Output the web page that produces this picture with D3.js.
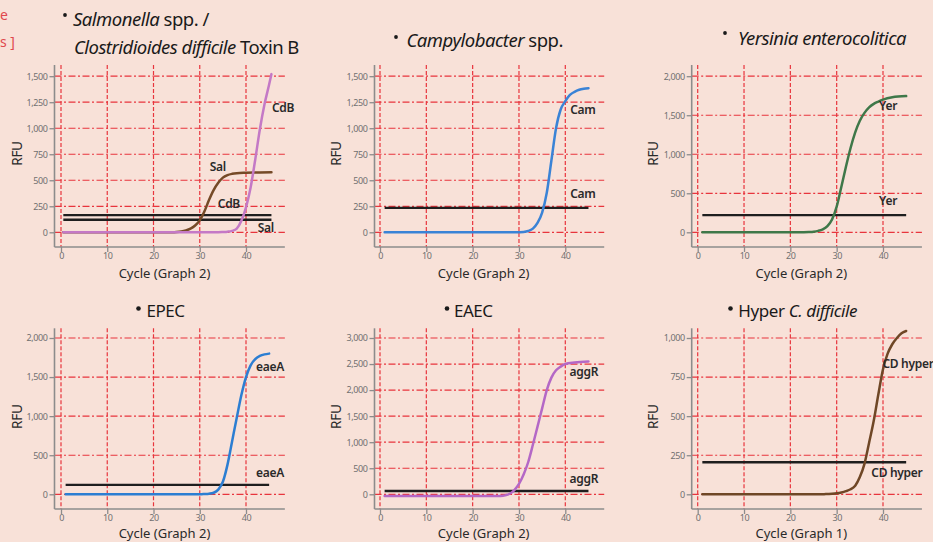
<!DOCTYPE html>
<html><head><meta charset="utf-8">
<script src="https://cdn.jsdelivr.net/npm/d3@7"></script>
<style>
html,body{margin:0;padding:0;background:#f8e1d8;}
svg{display:block;}
</style></head><body>
<svg id="c" width="933" height="542"></svg>
<script>
// ---------- data ----------
const xTicks = [0, 10, 20, 30, 40];
const yTicksSal = [0, 250, 500, 750, 1000, 1250, 1500];
const yTicksCam = [0, 250, 500, 750, 1000, 1250, 1500];
const yTicksYer = [0, 500, 1000, 1500, 2000];
const yTicksEpec = [0, 500, 1000, 1500, 2000];
const yTicksEaec = [0, 500, 1000, 1500, 2000, 2500, 3000];
const yTicksHyper = [0, 250, 500, 750, 1000];

const salCycles = [0.5, 10, 20, 24, 25, 26, 27, 28, 29, 30, 31, 32, 33, 34, 35, 36, 37, 38, 40, 43, 45.5];
const salRFU    = [0, 0, 0, 1, 3, 8, 18, 35, 65, 115, 200, 310, 405, 475, 525, 550, 562, 568, 572, 575, 578];
const cdbCycles = [0.5, 10, 20, 30, 34, 35, 36, 37, 38, 39, 40, 41, 42, 43, 44, 45, 45.5];
const cdbRFU    = [0, 0, 0, 0, 1, 3, 6, 14, 36, 110, 240, 430, 700, 990, 1230, 1420, 1520];
const camCycles = [1, 10, 20, 29, 30, 31, 32, 33, 34, 35, 36, 37, 38, 39, 40, 41, 42, 43, 44, 45];
const camRFU    = [0, 0, 0, 0, 1, 3, 12, 35, 90, 190, 380, 690, 1000, 1180, 1260, 1320, 1350, 1370, 1380, 1385];
const yerCycles = [1, 10, 20, 22, 24, 25, 26, 27, 28, 29, 30, 31, 32, 33, 34, 35, 36, 37, 38, 39, 40, 42, 45];
const yerRFU    = [0, 0, 0, 0, 4, 8, 18, 38, 80, 165, 330, 580, 840, 1080, 1280, 1430, 1530, 1600, 1645, 1675, 1700, 1730, 1745];
const eaeCycles = [1, 10, 20, 30, 31, 32, 33, 34, 35, 36, 37, 38, 39, 40, 41, 42, 43, 44, 45];
const eaeRFU    = [0, 0, 0, 0, 3, 8, 20, 60, 160, 380, 680, 980, 1270, 1500, 1650, 1730, 1770, 1790, 1800];
const aggCycles = [1, 10, 20, 25, 26, 27, 28, 29, 30, 31, 32, 33, 34, 35, 36, 37, 38, 39, 40, 42, 45];
const aggRFU    = [-35, -35, -35, -35, -32, -20, 10, 80, 200, 380, 620, 950, 1300, 1650, 2000, 2240, 2380, 2450, 2500, 2530, 2550];
const cdhCycles = [1, 10, 20, 27, 28, 29, 30, 31, 32, 33, 34, 35, 36, 37, 38, 39, 40, 41, 42, 43, 44, 45];
const cdhRFU    = [0, 0, 0, 0, 2, 4, 7, 12, 20, 32, 55, 110, 195, 330, 470, 640, 800, 900, 960, 1000, 1030, 1045];

// thresholds (RFU)
const salThreshold = 120, cdbThreshold = 165;
const camThreshold = 235, yerThreshold = 220;
const eaeThreshold = 120, aggThreshold = 63, cdhThreshold = 205;

// curve labels: [text, cycle, RFU]
const salLabels = [["CdB", 48.0, 1195], ["Sal", 33.9, 628], ["CdB", 36.3, 272], ["Sal", 44.3, 41]];
const camLabels = [["Cam", 43.8, 1175], ["Cam", 43.8, 368]];
const yerLabels = [["Yer", 41.1, 1620], ["Yer", 41.1, 398]];
const eaeLabels = [["eaeA", 45.2, 1632], ["eaeA", 45.2, 273]];
const aggLabels = [["aggR", 44.0, 2352], ["aggR", 44.0, 294]];
const cdhLabels = [["CD hyper", 45.4, 835], ["CD hyper", 43.0, 137]];

const xTitles = ["Cycle (Graph 2)", "Cycle (Graph 2)", "Cycle (Graph 2)", "Cycle (Graph 2)", "Cycle (Graph 2)", "Cycle (Graph 1)"];

// ---------- layout ----------
const svg = d3.select("#c");
svg.append("rect").attr("width", 933).attr("height", 542).attr("fill", "#f8e1d8");

const cols = [
  {x0: 61, x40: 246, axisX: 54.5, rfuX: 17.7},
  {x0: 380, x40: 565.3, axisX: 374.5, rfuX: 336},
  {x0: 697.7, x40: 883, axisX: 691.7, rfuX: 653.5}
];
const rows = [
  {yBase: 232.3, yTop: 76.2, axisTop: 65, axisBottom: 247, rfuY: 153.5, xTitleY: 278},
  {yBase: 494.3, yTop: 338, axisTop: 328.3, axisBottom: 509, rfuY: 416.7, xTitleY: 538}
];

const GRID = "#e8353d";
const AXIS = "#8c8c8c";
const LABEL_FONT = "'Noto Sans', 'Open Sans', sans-serif";

const panels = [
  {col: 0, row: 0, ticks: yTicksSal, series: [[salCycles, salRFU, "#754a27"], [cdbCycles, cdbRFU, "#c479c6"]],
   thresholds: [[cdbThreshold, 0.5, 45.5], [salThreshold, 0.5, 45.5]], labels: salLabels, xt: 0},
  {col: 1, row: 0, ticks: yTicksCam, series: [[camCycles, camRFU, "#3a83d6"]],
   thresholds: [[camThreshold, 1, 45]], labels: camLabels, xt: 1},
  {col: 2, row: 0, ticks: yTicksYer, series: [[yerCycles, yerRFU, "#3f7849"]],
   thresholds: [[yerThreshold, 1, 45]], labels: yerLabels, xt: 2},
  {col: 0, row: 1, ticks: yTicksEpec, series: [[eaeCycles, eaeRFU, "#2c7ed2"]],
   thresholds: [[eaeThreshold, 1, 45]], labels: eaeLabels, xt: 3},
  {col: 1, row: 1, ticks: yTicksEaec, series: [[aggCycles, aggRFU, "#b468c6"]],
   thresholds: [[aggThreshold, 1, 45]], labels: aggLabels, xt: 4},
  {col: 2, row: 1, ticks: yTicksHyper, series: [[cdhCycles, cdhRFU, "#6f4726"]],
   thresholds: [[cdhThreshold, 1, 45]], labels: cdhLabels, xt: 5}
];

function drawPanel(p) {
  const c = cols[p.col], r = rows[p.row];
  const g = svg.append("g");
  const yMax = p.ticks[p.ticks.length - 1];
  const x = d3.scaleLinear().domain([0, 40]).range([c.x0, c.x40]);
  const y = d3.scaleLinear().domain([0, yMax]).range([r.yBase, r.yTop]);
  const right = x(48.4);

  // vertical grid
  g.append("g").selectAll("line").data(xTicks).join("line")
    .attr("x1", d => x(d)).attr("x2", d => x(d))
    .attr("y1", r.axisTop).attr("y2", r.axisBottom)
    .attr("stroke", GRID).attr("stroke-width", 1.2).attr("stroke-dasharray", "4,2");
  // horizontal grid
  g.append("g").selectAll("line").data(p.ticks).join("line")
    .attr("x1", c.axisX).attr("x2", right)
    .attr("y1", d => y(d)).attr("y2", d => y(d))
    .attr("stroke", GRID).attr("stroke-width", 1.2).attr("stroke-dasharray", "7,2.5,2,2.5");

  // y axis
  const ya = g.append("g").attr("transform", `translate(${c.axisX},0)`)
    .call(d3.axisLeft(y).tickValues(p.ticks).tickFormat(d3.format(",")).tickSize(5).tickPadding(2));
  ya.select(".domain").remove();
  ya.selectAll(".tick line").attr("stroke", AXIS).attr("stroke-width", 1.3);
  ya.selectAll(".tick text").attr("fill", "#707070").attr("font-size", 9)
    .attr("font-family", LABEL_FONT).attr("letter-spacing", -0.4);
  g.append("line").attr("x1", c.axisX).attr("x2", c.axisX).attr("y1", r.axisTop).attr("y2", r.axisBottom)
    .attr("stroke", AXIS).attr("stroke-width", 1.6);

  // x axis
  const xa = g.append("g").attr("transform", `translate(0,${r.axisBottom})`)
    .call(d3.axisBottom(x).tickValues(xTicks).tickSize(5).tickPadding(1));
  xa.select(".domain").remove();
  xa.selectAll(".tick line").attr("stroke", AXIS).attr("stroke-width", 1.3);
  xa.selectAll(".tick text").attr("fill", "#707070").attr("font-size", 9)
    .attr("font-family", LABEL_FONT).attr("letter-spacing", -0.4);
  g.append("line").attr("x1", c.axisX).attr("x2", right).attr("y1", r.axisBottom).attr("y2", r.axisBottom)
    .attr("stroke", AXIS).attr("stroke-width", 1.6);

  // thresholds
  p.thresholds.forEach(t => {
    g.append("line").attr("x1", x(t[1])).attr("x2", x(t[2])).attr("y1", y(t[0])).attr("y2", y(t[0]))
      .attr("stroke", "#1e1e1e").attr("stroke-width", 2.4);
  });

  // curves
  const line = d3.line().x(d => x(d[0])).y(d => y(d[1])).curve(d3.curveMonotoneX);
  p.series.forEach(s => {
    const pts = s[0].map((cy, i) => [cy, s[1][i]]);
    g.append("path").datum(pts).attr("d", line).attr("fill", "none")
      .attr("stroke", s[2]).attr("stroke-width", 2.5).attr("stroke-linecap", "round");
  });

  // labels
  g.append("g").selectAll("text").data(p.labels).join("text")
    .attr("x", d => x(d[1])).attr("y", d => y(d[2])).attr("dy", "0.35em")
    .attr("text-anchor", "middle").attr("font-family", LABEL_FONT).attr("font-size", 12)
    .attr("font-weight", 600).attr("fill", "#2a2a2a").attr("letter-spacing", -0.3)
    .text(d => d[0]);

  // axis titles
  g.append("text").attr("transform", `translate(${c.rfuX},${r.rfuY}) rotate(-90)`)
    .attr("text-anchor", "middle").attr("dy", "0.35em").attr("font-family", LABEL_FONT)
    .attr("font-size", 13.5).attr("fill", "#2a2a2a").attr("letter-spacing", -0.3).text("RFU");
  g.append("text").attr("x", x(20) + 11).attr("y", r.xTitleY).attr("text-anchor", "middle")
    .attr("font-family", LABEL_FONT).attr("font-size", 13).attr("fill", "#2a2a2a")
    .attr("letter-spacing", 0).text(xTitles[p.xt]);
}
panels.forEach(drawPanel);

// ---------- titles ----------
const TF = "'Noto Sans', 'Open Sans', sans-serif";
function title(xp, yp, parts, size, ls) {
  const t = svg.append("text").attr("x", xp).attr("y", yp).attr("font-family", TF)
    .attr("font-size", size).attr("fill", "#1a1a1a").attr("letter-spacing", ls);
  parts.forEach(pt => t.append("tspan").attr("font-style", pt[1] ? "italic" : "normal").text(pt[0]));
}
function bullet(xp, yp, rr) {
  svg.append("circle").attr("cx", xp).attr("cy", yp).attr("r", rr).attr("fill", "#1a1a1a");
}
bullet(65, 15, 1.9);
title(73, 26, [["Salmonella", true], [" spp. /", false]], 18.5, -0.5);
title(74, 54, [["Clostridioides difficile", true], [" Toxin B", false]], 18.5, -0.55);
bullet(396, 37, 1.9);
title(406.5, 47, [["Campylobacter", true], [" spp.", false]], 18.5, -0.5);
bullet(725, 33, 1.9);
title(738, 44.5, [["Yersinia enterocolitica", true]], 18.5, -0.5);
bullet(138.5, 308.5, 2.3);
title(146.5, 316.7, [["EPEC", false]], 17, -0.5);
bullet(447, 308.5, 2.3);
title(454, 316.7, [["EAEC", false]], 17, -0.5);
bullet(730.5, 308.5, 2.3);
title(738.3, 316.7, [["Hyper ", false], ["C. difficile", true]], 17, -0.4);

// cropped red notes at top-left
svg.append("text").attr("x", 0).attr("y", 20).attr("font-family", TF).attr("font-size", 14)
  .attr("fill", "#e0484d").text("e");
svg.append("text").attr("x", 0).attr("y", 47).attr("font-family", TF).attr("font-size", 14)
  .attr("fill", "#e0484d").text("s ]");
</script>
</body></html>
